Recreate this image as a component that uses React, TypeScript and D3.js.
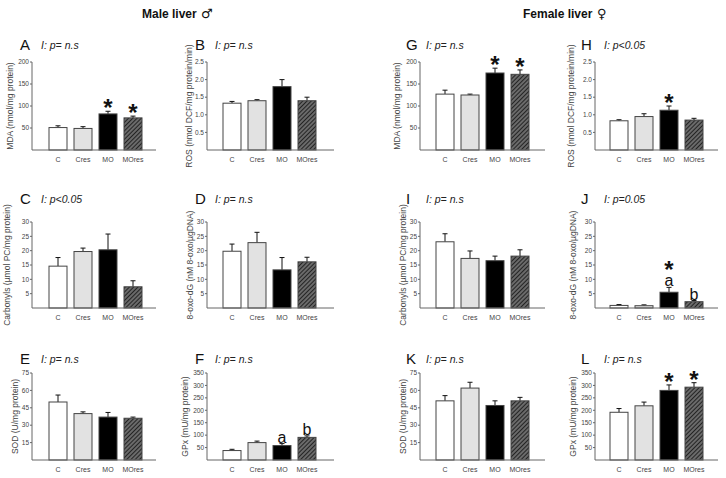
import React from 'react';
import * as d3 from 'd3';

// ---------- data ----------
const categories = ['C', 'Cres', 'MO', 'MOres'];

const mdaTicks = [50, 100, 150, 200];
const rosTicks = [0.5, 1.0, 1.5, 2.0, 2.5];
const carbTicks = [5, 10, 15, 20, 25, 30];
const oxoTicks = [5, 10, 15, 20, 25, 30];
const sodTicks = [15, 30, 45, 60, 75];
const gpxTicks = [50, 100, 150, 200, 250, 300, 350];

const mdaMale = [51, 49, 82, 73];
const mdaMaleErr = [4, 4, 6, 4];
const rosMale = [1.33, 1.4, 1.8, 1.4];
const rosMaleErr = [0.05, 0.03, 0.2, 0.1];
const carbMale = [14.6, 19.7, 20.3, 7.4];
const carbMaleErr = [3, 1.2, 5.5, 2.1];
const oxoMale = [19.8, 22.8, 13.3, 16.1];
const oxoMaleErr = [2.5, 3.6, 4.3, 1.6];
const sodMale = [50, 40, 37, 36];
const sodMaleErr = [6, 1.5, 4, 1];
const gpxMale = [38, 70, 58, 91];
const gpxMaleErr = [5, 6, 8, 6];

const mdaFemale = [127, 125, 175, 172];
const mdaFemaleErr = [9, 2, 11, 10];
const rosFemale = [0.83, 0.95, 1.13, 0.85];
const rosFemaleErr = [0.03, 0.08, 0.12, 0.05];
const carbFemale = [23.1, 17.3, 16.5, 18.1];
const carbFemaleErr = [2.8, 2.6, 1.6, 2.2];
const oxoFemale = [0.9, 0.8, 5.5, 2.2];
const oxoFemaleErr = [0.3, 0.3, 1.7, 0.4];
const sodFemale = [51, 62, 47, 51];
const sodFemaleErr = [4.5, 5, 4, 3];
const gpxFemale = [192, 218, 280, 293];
const gpxFemaleErr = [15, 15, 22, 18];

const noStars = [false, false, false, false];
const starsMOMOres = [false, false, true, true];
const starsMO = [false, false, true, false];
const noLetters = ['', '', '', ''];
const lettersAB = ['', '', 'a', 'b'];

const labelMDA = 'MDA (nmol/mg protein)';
const labelROS = 'ROS (nmol DCF/mg protein/min)';
const labelCarb = 'Carbonyls (\u00b5mol PC/mg protein)';
const labelOxo = '8-oxo-dG (nM 8-oxo/\u00b5gDNA)';
const labelSOD = 'SOD (U/mg protein)';
const labelGPx = 'GPx (mU/mg protein)';

const panelLetters = ['A', 'B', 'C', 'D', 'E', 'F', 'G', 'H', 'I', 'J', 'K', 'L'];
const panelStats = [
  'I: p= n.s', 'I: p= n.s', 'I: p<0.05', 'I: p= n.s', 'I: p= n.s', 'I: p= n.s',
  'I: p= n.s', 'I: p<0.05', 'I: p= n.s', 'I: p=0.05', 'I: p= n.s', 'I: p= n.s',
];

// ---------- layout ----------
const W = 726;
const H = 478;
const rowsY = [[62, 150], [222, 308], [373, 460]];
const colAxisX = [32, 207, 420, 595];
const colBarX = [49, 223, 436, 610];
const colAxisEnd = [156, 334, 545, 718];
const colLetterX = [20, 195, 406, 581];
const colStatX = [41, 215, 426, 604];
const rowLetterY = [50, 204, 364];
const yLabelXs = [10, 189, 7, 190, 15, 185, 397, 571, 403, 573, 403, 573];
const FONT = 'Liberation Sans, Arial, Helvetica, sans-serif';

const panels = [
  { row: 0, col: 0, ylabel: labelMDA, max: 200, ticks: mdaTicks, fmt: 'd', values: mdaMale, errors: mdaMaleErr, stars: starsMOMOres, letters: noLetters },
  { row: 0, col: 1, ylabel: labelROS, max: 2.5, ticks: rosTicks, fmt: '.1f', values: rosMale, errors: rosMaleErr, stars: noStars, letters: noLetters },
  { row: 1, col: 0, ylabel: labelCarb, max: 30, ticks: carbTicks, fmt: 'd', values: carbMale, errors: carbMaleErr, stars: noStars, letters: noLetters },
  { row: 1, col: 1, ylabel: labelOxo, max: 30, ticks: oxoTicks, fmt: 'd', values: oxoMale, errors: oxoMaleErr, stars: noStars, letters: noLetters },
  { row: 2, col: 0, ylabel: labelSOD, max: 75, ticks: sodTicks, fmt: 'd', values: sodMale, errors: sodMaleErr, stars: noStars, letters: noLetters },
  { row: 2, col: 1, ylabel: labelGPx, max: 350, ticks: gpxTicks, fmt: 'd', values: gpxMale, errors: gpxMaleErr, stars: noStars, letters: lettersAB },
  { row: 0, col: 2, ylabel: labelMDA, max: 200, ticks: mdaTicks, fmt: 'd', values: mdaFemale, errors: mdaFemaleErr, stars: starsMOMOres, letters: noLetters },
  { row: 0, col: 3, ylabel: labelROS, max: 2.5, ticks: rosTicks, fmt: '.1f', values: rosFemale, errors: rosFemaleErr, stars: starsMO, letters: noLetters },
  { row: 1, col: 2, ylabel: labelCarb, max: 30, ticks: carbTicks, fmt: 'd', values: carbFemale, errors: carbFemaleErr, stars: noStars, letters: noLetters },
  { row: 1, col: 3, ylabel: labelOxo, max: 30, ticks: oxoTicks, fmt: 'd', values: oxoFemale, errors: oxoFemaleErr, stars: starsMO, letters: lettersAB },
  { row: 2, col: 2, ylabel: labelSOD, max: 75, ticks: sodTicks, fmt: 'd', values: sodFemale, errors: sodFemaleErr, stars: noStars, letters: noLetters },
  { row: 2, col: 3, ylabel: labelGPx, max: 350, ticks: gpxTicks, fmt: 'd', values: gpxFemale, errors: gpxFemaleErr, stars: starsMOMOres, letters: noLetters },
];

const fills = ['#ffffff', '#e2e2e2', '#000000', 'url(#hatch)'];
const axisColor = '#666';
const textColor = '#444';

function Panel({ p, i }: { p: any; i: number }) {
  const [top, bottom] = rowsY[p.row];
  const ax = colAxisX[p.col];
  const bx = colBarX[p.col];
  const y = d3.scaleLinear().domain([0, p.max]).range([bottom, top]);
  const x = d3.scaleBand().domain(categories).range([bx, bx + 93]).paddingInner(0.28).paddingOuter(0);
  const fmt = d3.format(p.fmt);
  const bw = x.bandwidth();
  return (
    <g>
      <text x={colLetterX[p.col]} y={rowLetterY[p.row]} fontSize={15} fontFamily={FONT} fill="#111">{panelLetters[i]}</text>
      <text x={colStatX[p.col]} y={rowLetterY[p.row] - 1} fontSize={10.5} fontStyle="italic" fontFamily={FONT} fill="#222">{panelStats[i]}</text>
      {categories.map((c, k) => {
        const v = p.values[k];
        const e = p.errors[k];
        const x0 = x(c) as number;
        const cx = x0 + bw / 2;
        const yt = y(v + e);
        return (
          <g key={c}>
            <line x1={cx} x2={cx} y1={y(v)} y2={yt} stroke="#111" strokeWidth={1} />
            <line x1={cx - 2.5} x2={cx + 2.5} y1={yt} y2={yt} stroke="#111" strokeWidth={1} />
            <rect x={x0} y={y(v)} width={bw} height={bottom - y(v)} fill={fills[k]} stroke="#444" strokeWidth={1} />
            {p.letters[k] ? (
              <text x={cx} y={yt - 1} textAnchor="middle" fontSize={16} fontFamily={FONT} fill="#111">{p.letters[k]}</text>
            ) : null}
            {p.stars[k] ? (
              <text x={cx} y={p.letters[k] ? yt - 9 : yt + 5} textAnchor="middle" fontSize={24} fontWeight="bold" fontFamily={FONT} fill="#111">*</text>
            ) : null}
          </g>
        );
      })}
      <line x1={ax} x2={ax} y1={top} y2={bottom} stroke={axisColor} strokeWidth={1} />
      <line x1={ax} x2={colAxisEnd[p.col]} y1={bottom} y2={bottom} stroke={axisColor} strokeWidth={1} />
      {p.ticks.map((t: number) => (
        <g key={t}>
          <line x1={ax - 2} x2={ax} y1={y(t)} y2={y(t)} stroke={axisColor} strokeWidth={1} />
          <text x={ax - 3} y={y(t)} dy="0.35em" textAnchor="end" fontSize={6.5} fontFamily={FONT} fill={textColor}>{fmt(t)}</text>
        </g>
      ))}
      {categories.map((c) => (
        <text key={c} x={(x(c) as number) + bw / 2} y={bottom + 12} textAnchor="middle" fontSize={7} fontFamily={FONT} fill={textColor}>{c}</text>
      ))}
      <text
        transform={`translate(${yLabelXs[i]},${(top + bottom) / 2}) rotate(-90)`}
        dy="0.35em"
        textAnchor="middle"
        fontSize={8.5}
        fontFamily={FONT}
        fill={textColor}
      >{p.ylabel}</text>
    </g>
  );
}

export default function App() {
  return (
    <svg width={W} height={H} style={{ position: 'absolute', left: 0, top: 0, background: '#fff' }}>
      <defs>
        <pattern id="hatch" patternUnits="userSpaceOnUse" width={3} height={3} patternTransform="rotate(45)">
          <rect width={3} height={3} fill="#6a6a6a" />
          <line x1={0} y1={0} x2={0} y2={3} stroke="#111" strokeWidth={1.6} />
        </pattern>
      </defs>
      <rect width={W} height={H} fill="#fff" />
      <text x={142} y={18} fontSize={12} fontWeight="bold" fontFamily={FONT} fill="#111">Male liver</text>
      <text x={201} y={18} fontSize={13} fontFamily="DejaVu Sans, sans-serif" fill="#111">{'\u2642'}</text>
      <text x={523} y={18} fontSize={12} fontWeight="bold" fontFamily={FONT} fill="#111">Female liver</text>
      <text x={597} y={18} fontSize={13} fontFamily="DejaVu Sans, sans-serif" fill="#111">{'\u2640'}</text>
      {panels.map((p, i) => (
        <Panel key={i} p={p} i={i} />
      ))}
    </svg>
  );
}
